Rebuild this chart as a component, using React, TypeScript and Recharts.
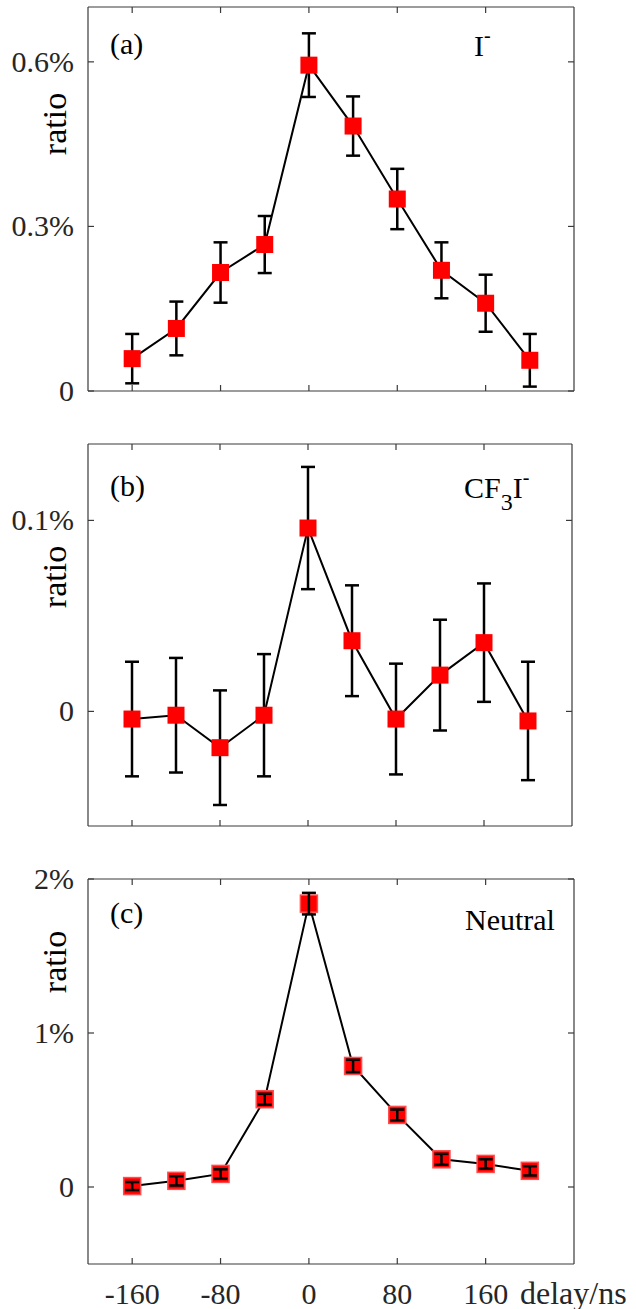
import React from "react";
import { LineChart, Line, XAxis, YAxis, ErrorBar } from "recharts";

const delays = [-160, -120, -80, -40, 0, 40, 80, 120, 160, 200];

const ratioI = [0.059, 0.114, 0.216, 0.267, 0.594, 0.483, 0.35, 0.22, 0.16, 0.056];
const errI = [0.045, 0.049, 0.055, 0.052, 0.058, 0.054, 0.055, 0.051, 0.052, 0.048];

const ratioCF3I = [-0.004, -0.002, -0.019, -0.002, 0.096, 0.037, -0.004, 0.019, 0.036, -0.005];
const errCF3I = [0.03, 0.03, 0.03, 0.032, 0.032, 0.029, 0.029, 0.029, 0.031, 0.031];

const ratioNeutral = [0.006, 0.04, 0.085, 0.57, 1.84, 0.786, 0.468, 0.18, 0.15, 0.105];
const errNeutral = [0.026, 0.03, 0.03, 0.035, 0.07, 0.04, 0.035, 0.035, 0.03, 0.03];

const xTicks = [-160, -80, 0, 80, 160];
const yTicksA = [0, 0.3, 0.6];
const yTicksB = [0, 0.1];
const yTicksC = [0, 1, 2];

const FONT = "Liberation Serif, Times New Roman, Times, serif";
const AXIS = "#3a3a3a";
const TICK_LEN = 6;

const fmtY = (v: number) => (v === 0 ? "0" : `${v}%`);

const build = (vals: number[], errs: number[]) =>
  delays.map((d, i) => ({ x: d, v: vals[i], e: errs[i] }));

function BottomTick(props: any) {
  const { x, y, payload, showLabel } = props;
  return (
    <g>
      <line x1={x} x2={x} y1={y} y2={y - TICK_LEN} stroke={AXIS} strokeWidth={1.2} />
      {showLabel && (
        <text x={x} y={y + 40} textAnchor="middle" fontSize={30} style={{ fontFamily: FONT }} fill="#262626">
          {payload.value}
        </text>
      )}
    </g>
  );
}

function TopTick(props: any) {
  const { x, y } = props;
  return <line x1={x} x2={x} y1={y} y2={y + TICK_LEN} stroke={AXIS} strokeWidth={1.2} />;
}

function LeftTick(props: any) {
  const { x, y, payload } = props;
  return (
    <g>
      <line x1={x} x2={x + TICK_LEN} y1={y} y2={y} stroke={AXIS} strokeWidth={1.2} />
      <text x={x - 14} y={y + 10} textAnchor="end" fontSize={30} style={{ fontFamily: FONT }} fill="#262626">
        {fmtY(payload.value)}
      </text>
    </g>
  );
}

function RightTick(props: any) {
  const { x, y } = props;
  return <line x1={x} x2={x - TICK_LEN} y1={y} y2={y} stroke={AXIS} strokeWidth={1.2} />;
}

const squareDot = (size: number, stroke?: string) => (props: any) => {
  const { cx, cy, index } = props;
  if (cx == null || cy == null) return <g key={index} />;
  return (
    <rect
      key={index}
      x={cx - size / 2}
      y={cy - size / 2}
      width={size}
      height={size}
      fill="#ff0000"
      stroke={stroke || "none"}
      strokeWidth={stroke ? 1.5 : 0}
    />
  );
};

interface PanelProps {
  top: number;
  topH: number;
  height: number;
  plotHeight: number;
  rightW: number;
  data: { x: number; v: number; e: number }[];
  domain: [number, number];
  yTicks: number[];
  showXLabels?: boolean;
  errOnTop?: boolean;
  markerStroke?: string;
}

// one chart layer; "bare" draws only the error bars with invisible axes of the same size
function Layer({ p, part }: { p: PanelProps; part: "all" | "marks" | "err" }) {
  const { topH, height, plotHeight, rightW, data, domain, yTicks, showXLabels, markerStroke } = p;
  const bottomH = height - topH - plotHeight;
  const bare = part === "err";
  const axisLine = bare ? false : { stroke: AXIS, strokeWidth: 1.2 };
  return (
    <LineChart width={636} height={height} data={data} margin={{ top: 0, right: 0, bottom: 0, left: 0 }}>
      <XAxis
        xAxisId={0}
        dataKey="x"
        type="number"
        domain={[-200, 240]}
        ticks={xTicks}
        interval={0}
        height={bottomH}
        tickSize={0}
        tickMargin={0}
        tickLine={false}
        axisLine={axisLine}
        tick={bare ? false : <BottomTick showLabel={showXLabels} />}
      />
      <XAxis
        xAxisId="top"
        orientation="top"
        dataKey="x"
        type="number"
        domain={[-200, 240]}
        ticks={xTicks}
        interval={0}
        height={topH}
        tickSize={0}
        tickMargin={0}
        tickLine={false}
        axisLine={axisLine}
        tick={bare ? false : <TopTick />}
      />
      <YAxis
        yAxisId={0}
        type="number"
        domain={domain}
        allowDataOverflow
        ticks={yTicks}
        interval={0}
        width={88}
        tickSize={0}
        tickMargin={0}
        tickLine={false}
        axisLine={axisLine}
        tick={bare ? false : <LeftTick />}
      />
      <YAxis
        yAxisId="right"
        orientation="right"
        type="number"
        domain={domain}
        allowDataOverflow
        ticks={yTicks}
        interval={0}
        width={rightW}
        tickSize={0}
        tickMargin={0}
        tickLine={false}
        axisLine={axisLine}
        tick={bare ? false : <RightTick />}
      />
      {part !== "marks" && (
        <Line dataKey="v" stroke="none" dot={false} activeDot={false} isAnimationActive={false}>
          <ErrorBar dataKey="e" direction="y" width={7} strokeWidth={2.5} stroke="#000" />
        </Line>
      )}
      {!bare && (
        <Line
          dataKey="v"
          type="linear"
          stroke="#000"
          strokeWidth={2}
          dot={squareDot(17, markerStroke)}
          activeDot={false}
          isAnimationActive={false}
        />
      )}
    </LineChart>
  );
}

function Panel(p: PanelProps) {
  return (
    <div style={{ position: "absolute", left: 0, top: p.top, width: 636, height: p.height }}>
      <Layer p={p} part={p.errOnTop ? "marks" : "all"} />
      {p.errOnTop && (
        <div style={{ position: "absolute", left: 0, top: 0 }}>
          <Layer p={p} part="err" />
        </div>
      )}
    </div>
  );
}

export default function App() {
  const txt = { style: { fontFamily: FONT }, fill: "#000" };
  return (
    <div style={{ position: "absolute", left: 0, top: 0, width: 636, height: 1309, background: "#fff" }}>
      <Panel top={0} topH={7} height={440} plotHeight={384} rightW={62} data={build(ratioI, errI)} domain={[0, 0.7]} yTicks={yTicksA} />
      <Panel top={420} topH={24} height={457} plotHeight={382} rightW={64} data={build(ratioCF3I, errCF3I)} domain={[-0.06, 0.14]} yTicks={yTicksB} />
      <Panel
        top={850}
        topH={29}
        height={459}
        plotHeight={385}
        rightW={62}
        data={build(ratioNeutral, errNeutral)}
        domain={[-0.5, 2]}
        yTicks={yTicksC}
        showXLabels
        errOnTop
        markerStroke="#ff4d4d"
      />
      <svg width={636} height={1309} style={{ position: "absolute", left: 0, top: 0, pointerEvents: "none" }}>
        <text x={66} y={124} transform="rotate(-90 66 124)" textAnchor="middle" fontSize={34} {...txt}>ratio</text>
        <text x={66} y={577} transform="rotate(-90 66 577)" textAnchor="middle" fontSize={34} {...txt}>ratio</text>
        <text x={66} y={962} transform="rotate(-90 66 962)" textAnchor="middle" fontSize={34} {...txt}>ratio</text>

        <text x={110} y={54} fontSize={30} {...txt}>(a)</text>
        <text x={110} y={496} fontSize={30} {...txt}>(b)</text>
        <text x={110} y={923} fontSize={30} {...txt}>(c)</text>

        <text x={474} y={56} fontSize={30} {...txt}>
          I<tspan dy={-14} fontSize={20}>-</tspan>
        </text>
        <text x={464} y={498} fontSize={30} {...txt}>
          CF<tspan dy={12} fontSize={24}>3</tspan>
          <tspan dy={-12}>I</tspan>
          <tspan dy={-14} fontSize={20}>-</tspan>
        </text>
        <text x={465} y={930} fontSize={30} {...txt}>Neutral</text>

        <text x={520} y={1304} fontSize={32} style={{ fontFamily: FONT }} fill="#262626">delay/ns</text>
      </svg>
    </div>
  );
}
